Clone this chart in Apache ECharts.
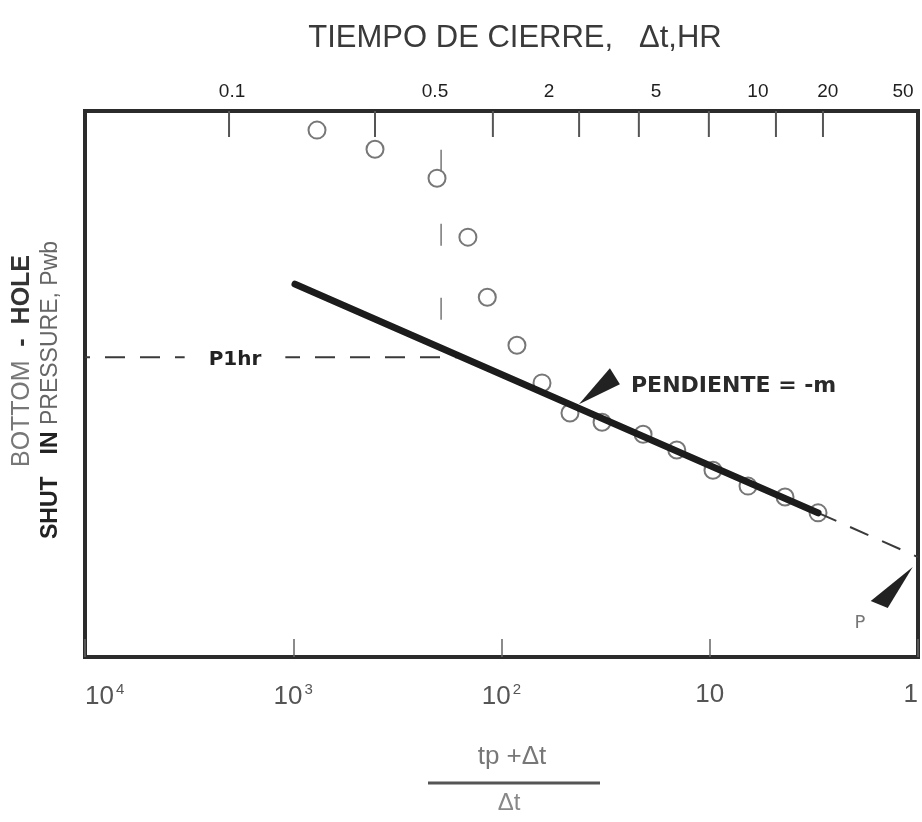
<!DOCTYPE html>
<html><head><meta charset="utf-8">
<script src="https://cdn.jsdelivr.net/npm/echarts@6/dist/echarts.min.js"></script>
<style>html,body{margin:0;padding:0;background:#fff}#c{width:922px;height:822px}</style>
</head><body><div id="c"></div>
<script>
// Horner ratio (tp+Δt)/Δt and shut-in pressure (arbitrary units, 0–100 over the plot height)
const hornerX  = [769, 405, 204, 145, 117, 84.3, 63.9, 46.9, 32.9, 20.9, 14.4, 9.65, 6.55, 4.35, 3.02];
const pressure = [96.5, 93.0, 87.7, 76.9, 65.9, 57.1, 50.2, 44.7, 43.0, 40.8, 37.9, 34.2, 31.3, 29.3, 26.4];
// straight-line fit (semilog) and its extrapolation to ratio = 1
const fitX = [981, 3.02];
const fitY = [68.3, 26.4];
const extX = [3.02, 1];
const extY = [26.4, 18.3];
// P1hr reading lines
const p1hrX = [10000, 162];
const p1hrY = [54.9, 54.9];
const oneHrX = [195, 195];
const oneHrY = [92.9, 61.4];
// top axis (shut-in time, hr) ticks and labels, placed on the Horner scale
const topTickX = [2034, 405, 110, 42.4, 21.9, 10.1, 4.81, 2.86];
const topLabels = ['0.1', '0.5', '2', '5', '10', '20', '50'];
const topLabelX = [1968, 208.6, 59.2, 18.1, 5.87, 2.71, 1.18];
// annotation anchors (data space)
const slopeTip = [42.5, 46.3];
const pStarTip = [1.06, 16.5];

const Y_MAX = 100;
const chart = echarts.init(document.getElementById('c'), null, {renderer: 'canvas'});
const pairs = (xs, ys) => xs.map((x, i) => [x, ys[i]]);

chart.setOption({
  animation: false,
  backgroundColor: '#fff',
  grid: {left: 85, right: 4, top: 111, bottom: 165, show: true, borderColor: '#2b2b2b', borderWidth: 4, backgroundColor: 'transparent'},
  xAxis: {
    type: 'log', logBase: 10, min: 1, max: 10000, inverse: true,
    axisLine: {show: false},
    axisTick: {show: true, inside: true, length: 18, lineStyle: {color: '#666', width: 1.5}},
    minorTick: {show: false}, splitLine: {show: false}, minorSplitLine: {show: false},
    axisLabel: {
      margin: 25, showMinLabel: true, showMaxLabel: true,
      alignMinLabel: 'right', alignMaxLabel: 'left',
      formatter: v => {
        const e = Math.round(Math.log10(v));
        if (e === 0) return '{b|1}';
        if (e === 1) return '{b|10}';
        return '{b|10}{s|' + e + '}';
      },
      rich: {
        b: {fontSize: 26, fontFamily: 'Liberation Sans', color: '#555'},
        s: {fontSize: 15, fontFamily: 'Liberation Sans', color: '#555', padding: [0, 0, 15, 2]}
      }
    }
  },
  yAxis: {type: 'value', min: 0, max: Y_MAX, show: false},
  series: [
    {type: 'scatter', data: pairs(hornerX, pressure), symbol: 'circle', symbolSize: 17,
      itemStyle: {color: 'rgba(0,0,0,0)', borderColor: '#555', borderWidth: 2}, z: 2, silent: true},
    {type: 'line', data: pairs(fitX, fitY), symbol: 'none', z: 4, silent: true,
      lineStyle: {color: '#1c1c1c', width: 7, cap: 'round', join: 'round'}},
    {type: 'line', data: pairs(extX, extY), symbol: 'none', z: 3, silent: true,
      lineStyle: {color: '#3a3a3a', width: 2, type: [20, 15]}},
    {type: 'line', data: pairs(p1hrX, p1hrY), symbol: 'none', z: 3, silent: true,
      lineStyle: {color: '#3a3a3a', width: 2, type: [20, 15], dashOffset: 15}},
    {type: 'line', data: pairs(oneHrX, oneHrY), symbol: 'none', z: 3, silent: true,
      lineStyle: {color: '#777', width: 1.5, type: [22, 52]}},
    {type: 'custom', silent: true, z: 5, clip: false,
      data: topTickX.map(v => [v, Y_MAX]),
      renderItem: (params, api) => {
        const p = api.coord([api.value(0), Y_MAX]);
        return {type: 'line', shape: {x1: p[0], y1: p[1], x2: p[0], y2: p[1] + 26},
          style: {stroke: '#555', lineWidth: 2}};
      }},
    {type: 'custom', silent: true, z: 5, clip: false,
      data: topLabelX.map(v => [v, Y_MAX]),
      renderItem: (params, api) => {
        const p = api.coord([api.value(0), Y_MAX]);
        return {type: 'text', x: p[0], y: p[1] - 19,
          style: {text: topLabels[params.dataIndex], fontSize: 19, fontFamily: 'Liberation Sans',
            fill: '#1e1e1e', align: 'center', verticalAlign: 'middle'}};
      }}
  ]
});

const t1 = chart.convertToPixel({gridIndex: 0}, slopeTip);
const t2 = chart.convertToPixel({gridIndex: 0}, pStarTip);

chart.setOption({
  graphic: [
    {type: 'text', x: 515, y: 38, style: {text: 'TIEMPO DE CIERRE,   Δt,HR', fontSize: 31,
      fontFamily: 'Liberation Sans', fill: '#3a3a3a', align: 'center', verticalAlign: 'middle'}},
    {type: 'text', x: 22, y: 361, rotation: Math.PI / 2, style: {
      text: '{l|BOTTOM  }{b|-  HOLE}', align: 'center', verticalAlign: 'middle',
      rich: {l: {fontSize: 25, fontFamily: 'Liberation Sans', fill: '#777'},
             b: {fontSize: 25, fontFamily: 'Liberation Sans', fontWeight: 'bold', fill: '#333'}}}},
    {type: 'text', x: 51, y: 390, rotation: Math.PI / 2, style: {
      text: '{b|SHUT}{g| }{b|IN }{l|PRESSURE, Pwb}', align: 'center', verticalAlign: 'middle',
      rich: {l: {fontSize: 23, fontFamily: 'Liberation Sans', fill: '#666'},
             g: {fontSize: 23, width: 22},
             b: {fontSize: 23, fontFamily: 'Liberation Sans', fontWeight: 'bold', fill: '#222'}}}},
    {type: 'text', x: 512, y: 757, style: {text: 'tp +Δt', fontSize: 26, fontFamily: 'Liberation Sans',
      fill: '#777', align: 'center', verticalAlign: 'middle'}},
    {type: 'line', shape: {x1: 428, y1: 783, x2: 600, y2: 783}, style: {stroke: '#555', lineWidth: 3}},
    {type: 'text', x: 509, y: 803, style: {text: 'Δt', fontSize: 24, fontFamily: 'Liberation Sans',
      fill: '#888', align: 'center', verticalAlign: 'middle'}},
    {type: 'text', x: 235, y: 360, z: 10, style: {text: 'P1hr', fontSize: 20, fontFamily: 'DejaVu Sans',
      fontWeight: 'bold', fill: '#222', align: 'center', verticalAlign: 'middle',
      backgroundColor: '#fff', padding: [2, 24]}},
    {type: 'text', x: 631, y: 386, z: 10, style: {text: 'PENDIENTE = -m', fontSize: 22, fontFamily: 'DejaVu Sans',
      fontWeight: 'bold', fill: '#2a2a2a', align: 'left', verticalAlign: 'middle'}},
    {type: 'polygon', z: 10, shape: {points: [[t1[0], t1[1]], [t1[0] + 31, t1[1] - 36], [t1[0] + 41, t1[1] - 20]]},
      style: {fill: '#222'}},
    {type: 'polygon', z: 10, shape: {points: [[t2[0], t2[1]], [t2[0] - 42, t2[1] + 34], [t2[0] - 25, t2[1] + 41]]},
      style: {fill: '#222'}},
    {type: 'text', x: 860, y: 623, z: 10, style: {text: 'P', fontSize: 18, fontFamily: 'DejaVu Sans',
      fill: '#777', align: 'center', verticalAlign: 'middle'}}
  ]
});
</script>
</body></html>
